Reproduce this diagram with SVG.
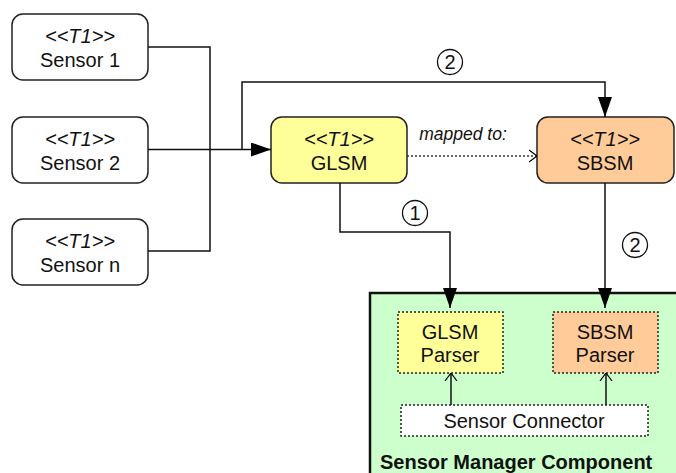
<svg xmlns="http://www.w3.org/2000/svg" width="676" height="473" viewBox="0 0 676 473">
<defs>
<marker id="fa" viewBox="0 0 20 14" refX="20" refY="7" markerWidth="20" markerHeight="14" markerUnits="userSpaceOnUse" orient="auto"><path d="M0,0 L20,7 L0,14 Z" fill="#000"/></marker>
<marker id="oa" viewBox="0 0 8 14" refX="8" refY="7" markerWidth="8" markerHeight="14" markerUnits="userSpaceOnUse" orient="auto"><path d="M0,1 L8,7 L0,13" fill="none" stroke="#000" stroke-width="1.2"/></marker>
</defs>
<style>
text{font-family:"Liberation Sans",Arial,sans-serif;font-size:20px;fill:#111;text-anchor:middle}
.st{font-style:italic}
.node{stroke:#222;stroke-width:1.5}
.ln{fill:none;stroke:#111;stroke-width:1.5}
.dot{stroke:#222;stroke-width:1.5;stroke-dasharray:2,2}
.circ{fill:#fff;stroke:#111;stroke-width:1.3}
</style>
<g id="smc">
<rect x="370" y="293" width="330" height="200" fill="#ccffcc" stroke="#111" stroke-width="2.5"/>
<text x="380" y="469" style="font-weight:bold;text-anchor:start">Sensor Manager Component</text>
</g>
<g id="sensor1"><rect class="node" x="12" y="14" width="136" height="66" rx="11" fill="#fff"/><text class="st" x="80" y="43">&lt;&lt;T1&gt;&gt;</text><text x="80" y="67">Sensor 1</text></g>
<g id="sensor2"><rect class="node" x="12" y="117" width="136" height="66" rx="11" fill="#fff"/><text class="st" x="80" y="146">&lt;&lt;T1&gt;&gt;</text><text x="80" y="170">Sensor 2</text></g>
<g id="sensorn"><rect class="node" x="12" y="219" width="136" height="66" rx="11" fill="#fff"/><text class="st" x="80" y="248">&lt;&lt;T1&gt;&gt;</text><text x="80" y="272">Sensor n</text></g>
<g id="glsm"><rect class="node" x="271" y="117" width="136" height="66" rx="11" fill="#ffff99"/><text class="st" x="339" y="146">&lt;&lt;T1&gt;&gt;</text><text x="339" y="170">GLSM</text></g>
<g id="sbsm"><rect class="node" x="537" y="117" width="137" height="66" rx="11" fill="#ffcc99"/><text class="st" x="605" y="146">&lt;&lt;T1&gt;&gt;</text><text x="605" y="170">SBSM</text></g>
<g id="glsmparser"><rect class="dot" x="398" y="312" width="105" height="61" fill="#ffff99"/><text x="450" y="339">GLSM</text><text x="450" y="362">Parser</text></g>
<g id="sbsmparser"><rect class="dot" x="553" y="312" width="105" height="61" fill="#ffcc99"/><text x="605" y="339">SBSM</text><text x="605" y="362">Parser</text></g>
<g id="connector"><rect class="dot" x="401" y="405" width="247" height="31" fill="#fff"/><text x="524" y="428">Sensor Connector</text></g>
<g id="connectors">
<polyline class="ln" points="148,47 210,47 210,251 148,251"/>
<line class="ln" x1="148" y1="149.5" x2="271" y2="149.5" marker-end="url(#fa)"/>
<polyline class="ln" points="242,149.5 242,82 605,82 605,117" marker-end="url(#fa)"/>
<line x1="407" y1="156" x2="537" y2="156" stroke="#333" stroke-width="1.5" stroke-dasharray="2,2" marker-end="url(#oa)"/>
<text class="st" x="463" y="140" style="font-size:17.5px">mapped to:</text>
<polyline class="ln" points="340,183 340,232 450,232 450,308" marker-end="url(#fa)"/>
<line class="ln" x1="605" y1="183" x2="605" y2="308" marker-end="url(#fa)"/>
<line class="ln" x1="451" y1="405" x2="451" y2="373" marker-end="url(#oa)"/>
<line class="ln" x1="606" y1="405" x2="606" y2="373" marker-end="url(#oa)"/>
<circle class="circ" cx="450" cy="62" r="12.5"/><text x="450" y="69">2</text>
<circle class="circ" cx="415" cy="213" r="12.5"/><text x="415" y="220">1</text>
<circle class="circ" cx="635" cy="245" r="12.5"/><text x="635" y="252">2</text>
</g>
</svg>
